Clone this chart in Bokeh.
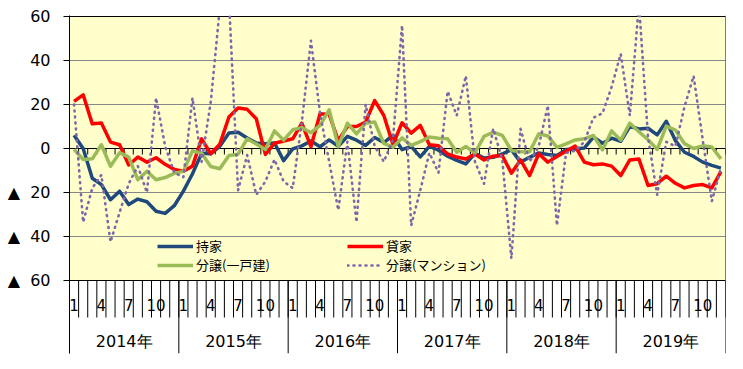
from bokeh.plotting import figure
from bokeh.models import FixedTicker, Legend, LegendItem, Span, Range1d, ColumnDataSource
from bokeh.core.properties import value
from bokeh.embed import file_html
from bokeh.resources import INLINE

# ---------------- data ----------------
years = ["2014年", "2015年", "2016年", "2017年", "2018年", "2019年"]
month_ticks = [1, 4, 7, 10]
month_tick_labels = ["1", "4", "7", "10"]
y_ticks = [-60, -40, -20, 0, 20, 40, 60]
y_tick_labels = ["▲\u00a0\u00a060", "▲\u00a0\u00a040", "▲\u00a0\u00a020", "0", "20", "40", "60"]

series_names = ["持家", "貸家", "分譲(一戸建)", "分譲(マンション)"]

mochiie = [
    6, 0, -13.5, -16.4, -23.3, -19.4, -25.5, -23, -24.2, -28.5, -29.5, -26,
    -19.4, -11.5, -2.2, -2.4, 1.0, 7, 7.4, 4.8, 2.5, 2.2, 2.5, -5.5,
    -0.2, 1.2, 3.4, 0.8, 3.9, 1, 5.5, 3.8, 1.4, 5, 2.7, 6,
    -0.5, 1, -3.8, 1, -0.8, -3.5, -5.4, -7, -2.2, -4.3, -4, -2.5,
    -0.5, -6.2, -4, -2, -2.7, -3.2, -0.5, -0.2, 0.2, 5.2, 2.4, 4.7,
    3.3, 10, 8.9, 9.2, 6.2, 12.4, 3.6, -1.7, -3.6, -6.2, -7.7, -8.9,
]
kashiya = [
    21.4, 24.4, 11.2, 11.6, 2.9, 1.7, -7.5, -3.9, -6.2, -4.2, -7.2, -9.5,
    -10.3, -8, 4.4, -2.4, 2, 14.3, 18.4, 17.8, 13.5, -2.7, 2.4, 3.4,
    4.4, 11.5, 0.8, 15.8, 15.5, 3.6, 10, 10, 12, 21.8, 15, 1.8,
    11.7, 7, 10.5, 1.7, 1.2, -2.5, -3.9, -4.8, -2.5, -5.2, -3.5, -3.2,
    -11.2, -5.2, -12.3, -2.4, -6.2, -3.6, -1.2, 1.1, -6.2, -7.4, -7, -8,
    -12.3, -5.2, -4.8, -16.8, -16, -12.6, -15.8, -17.9, -16.8, -16.4, -17.9, -10.5,
]
bunjo_ikko = [
    -0.4, -5, -4.7, 1.7, -8.1, -1.9, -3.9, -14.2, -10.3, -14.2, -13.2, -11.3,
    -10.4, -1, -2.2, -8.2, -9.2, -3.2, -2.6, 4.4, 2, -0.5, 8, 3.8,
    8.5, 9.5, 7.2, 10.5, 17.6, 0.8, 11.5, 6.6, 11.5, 12, 2.3, 0.6,
    4.8, 1.4, 3.1, 5.2, 4.7, 4.4, -1.7, 0.9, -2, 5.5, 7.4, 6,
    -0.9, -1.5, -1.5, 6.7, 5.7, 0.5, 2.1, 3.9, 4.4, 5.9, -0.6, 8,
    3.8, 11.5, 7.6, 4, -0.4, 10.2, 8.4, 2.2, 0, 1.2, 0.7, -4.7,
]
bunjo_mansion = [
    20, -33.5, -18, -12, -42.5, -29, -16, -8, -20, 23, 1, -11,
    -13, 23, -6, 21, 64, 68, -19, -3, -21, -15, -5, -15,
    -18, 12, 49, 16, -6, -28, 3, -33.5, 20, 1, -6, 4,
    56, -35, -19, -2, -11, 26, 15, 33, -6, -16, 9, -5,
    -50, 9, -6, 1, 19.5, -35, -2, -1, 3, 14, 16, 28,
    43, 15, 66, 5, -21, 3, 1, 19, 33, 4, -24, -9,
]

# ---------------- layout constants ----------------
PX_PER_UNIT = 2.2
Y_MAX, Y_MIN = 60, -60
TOP_PAD_PX = 1         # keeps the top border line inside the frame
BELOW_PX = 73          # category-label band below the plot area
MONTH_TICK_PX = 37
ZERO_TICK_PX = 6
MONTH_LABEL_PX = 24
YEAR_LABEL_PX = 61

n_months = len(mochiie)
xs = list(range(n_months))
frame_bottom = Y_MIN - BELOW_PX / PX_PER_UNIT
frame_top = Y_MAX + TOP_PAD_PX / PX_PER_UNIT
x_lo, x_hi = -0.5, n_months - 0.5

p = figure(width=729, height=358, output_backend="svg", toolbar_location=None,
           x_range=Range1d(x_lo, x_hi), y_range=Range1d(frame_bottom, frame_top),
           x_axis_location=None, min_border_left=69, min_border_right=4,
           min_border_top=15, min_border_bottom=5)
p.outline_line_color = None
p.background_fill_color = "white"
p.border_fill_color = "white"
p.xgrid.visible = False
p.ygrid.visible = False

# plot-area fill
p.quad(left=[x_lo], right=[x_hi], bottom=[Y_MIN], top=[Y_MAX], fill_color="#FFFFCC",
       line_color=None)

# gridlines and borders
grid_vals = [t for t in y_ticks if t not in (Y_MIN, 0, Y_MAX)]
p.segment(x0=[x_lo] * len(grid_vals), y0=grid_vals, x1=[x_hi] * len(grid_vals), y1=grid_vals,
          line_color="#868686", line_width=1)
edge_vals = [Y_MIN, 0, Y_MAX]
p.segment(x0=[x_lo] * 3, y0=edge_vals, x1=[x_hi] * 3, y1=edge_vals,
          line_color="black", line_width=1)

# y axis
ya = p.yaxis[0]
ya.ticker = FixedTicker(ticks=y_ticks)
ya.major_label_overrides = {t: l for t, l in zip(y_ticks, y_tick_labels)}
ya.major_tick_out = 6
ya.major_tick_in = 0
ya.minor_tick_out = 0
ya.minor_tick_in = 0
ya.major_label_standoff = 13
ya.axis_line_color = "black"
ya.major_tick_line_color = "black"
ya.major_label_text_font = "DejaVu Sans"
ya.major_label_text_font_size = "16px"
ya.major_label_text_color = "black"

p.add_layout(Span(location=x_hi, dimension="height", line_color="black", line_width=1))

# category tick marks
bounds = [i - 0.5 for i in range(n_months + 1)]
p.segment(x0=bounds, y0=[Y_MIN] * len(bounds), x1=bounds,
          y1=[Y_MIN - MONTH_TICK_PX / PX_PER_UNIT] * len(bounds), line_color="black", line_width=1)
p.segment(x0=bounds, y0=[0] * len(bounds), x1=bounds,
          y1=[-ZERO_TICK_PX / PX_PER_UNIT] * len(bounds), line_color="black", line_width=1)
year_bounds = [12 * k - 0.5 for k in range(1, len(years))]
p.segment(x0=year_bounds, y0=[Y_MIN] * len(year_bounds), x1=year_bounds,
          y1=[frame_bottom] * len(year_bounds), line_color="black", line_width=1)

# category labels
mx, mt = [], []
for yi in range(len(years)):
    for m, lab in zip(month_ticks, month_tick_labels):
        mx.append(yi * 12 + m - 1)
        mt.append(lab)
p.text(x=mx, y=[Y_MIN - MONTH_LABEL_PX / PX_PER_UNIT] * len(mx), text=mt,
       text_align="center", text_baseline="middle", text_font=value("DejaVu Sans"),
       text_font_size="15px", text_color="black")
yx = [yi * 12 + 5.5 for yi in range(len(years))]
p.text(x=yx, y=[Y_MIN - YEAR_LABEL_PX / PX_PER_UNIT] * len(yx), text=years,
       text_align="center", text_baseline="middle", text_font=value("DejaVu Sans"),
       text_font_size="16px", text_color="black")

# series
src = ColumnDataSource(dict(x=xs, a=mochiie, b=kashiya, c=bunjo_ikko, d=bunjo_mansion))
r_a = p.line("x", "a", source=src, line_color="#1F497D", line_width=3.5, line_join="round")
r_b = p.line("x", "b", source=src, line_color="#FF0000", line_width=3.5, line_join="round")
r_c = p.line("x", "c", source=src, line_color="#9BBB59", line_width=3.5, line_join="round")
r_d = p.line("x", "d", source=src, line_color="#7F66A8", line_width=2.6, line_dash="1 5",
             line_cap="round", line_join="round")

def make_legend(items, loc):
    return Legend(items=items, location=loc, orientation="vertical",
                  background_fill_alpha=0, border_line_color=None, padding=0, margin=0,
                  spacing=0, glyph_width=36, glyph_height=16, label_height=16,
                  label_standoff=3, label_text_font="Noto Sans CJK JP",
                  label_text_font_size="13px", label_text_color="black")

p.add_layout(make_legend([LegendItem(label=series_names[0], renderers=[r_a]),
                          LegendItem(label=series_names[2], renderers=[r_c])], (88, 79)))
p.add_layout(make_legend([LegendItem(label=series_names[1], renderers=[r_b]),
                          LegendItem(label=series_names[3], renderers=[r_d])], (278, 79)))

open("out.html", "w").write(file_html(p, INLINE))
